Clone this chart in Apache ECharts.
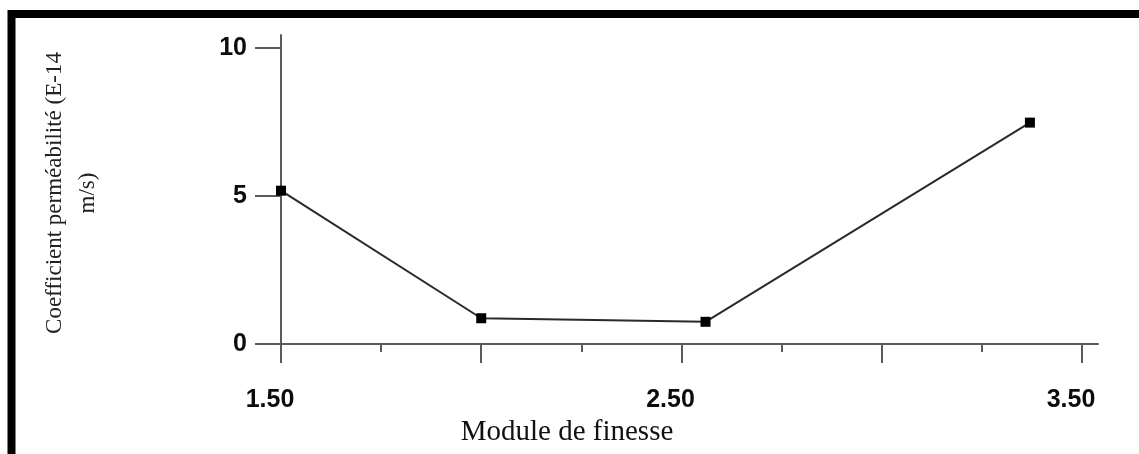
<!DOCTYPE html>
<html>
<head>
<meta charset="utf-8">
<title>Coefficient de perméabilité</title>
<script src="https://cdn.jsdelivr.net/npm/echarts@6/dist/echarts.min.js"></script>
<style>
  html, body { margin: 0; padding: 0; background: #fff; }
  #chart { width: 1139px; height: 454px; }
</style>
</head>
<body>
<div id="chart"></div>
<script>
// Fineness modulus of the sand vs. measured permeability coefficient
const finenessModulus = [1.5, 2.0, 2.56, 3.37];
const permeability = [5.18, 0.87, 0.75, 7.48];

// Axis ticks and labels
const xMajorTicks = [1.5, 2.0, 2.5, 3.0, 3.5];
const xMinorTicks = [1.75, 2.25, 2.75, 3.25];
const xTickLabels = [1.5, 2.5, 3.5];
const yTicks = [0, 5, 10];

const xName = 'Module de finesse';
const yName = 'Coefficient perméabilité (E-14\nm/s)';

const chart = echarts.init(document.getElementById('chart'));

const gridBox = { left: 281, top: 35, width: 817, height: 309 };
const axisGrey = '#5a5a5a';
const tickFont = { fontFamily: 'Liberation Sans, Arial, sans-serif', fontWeight: 'bold', fontSize: 25, color: '#0c0c0c' };

const points = finenessModulus.map((x, i) => [x, permeability[i]]);

chart.setOption({
  backgroundColor: '#fff',
  animation: false,
  grid: Object.assign({ containLabel: false }, gridBox),
  xAxis: [
    {
      type: 'value',
      min: 1.5,
      max: 3.54,
      splitLine: { show: false },
      axisLine: { show: true, onZero: false, lineStyle: { color: axisGrey, width: 2 } },
      axisTick: { show: true, length: 19, customValues: xMajorTicks, lineStyle: { color: axisGrey, width: 2 } },
      axisLabel: Object.assign({
        customValues: xTickLabels,
        margin: 44,
        padding: [0, 22, 0, 0],
        formatter: v => Number(v).toFixed(2)
      }, tickFont),
      name: xName,
      nameLocation: 'middle',
      nameGap: 67,
      nameTextStyle: {
        fontFamily: 'Liberation Serif, Times New Roman, serif',
        fontSize: 29,
        color: '#111',
        padding: [0, 245, 0, 0]
      }
    },
    {
      // second copy of the same scale, only for the short intermediate ticks
      type: 'value',
      min: 1.5,
      max: 3.54,
      position: 'bottom',
      splitLine: { show: false },
      axisLine: { show: false },
      axisTick: { show: true, length: 8, customValues: xMinorTicks, lineStyle: { color: axisGrey, width: 2 } },
      axisLabel: { show: false }
    }
  ],
  yAxis: {
    type: 'value',
    min: 0,
    max: 10.44,
    splitLine: { show: false },
    axisLine: { show: true, onZero: false, lineStyle: { color: axisGrey, width: 2 } },
    axisTick: { show: true, length: 26, customValues: yTicks, lineStyle: { color: axisGrey, width: 2 } },
    axisLabel: Object.assign({ customValues: yTicks, margin: 34 }, tickFont)
  },
  graphic: [
    {
      // heavy frame around the figure
      type: 'rect',
      shape: { x: 11.5, y: 14, width: 1200, height: 500 },
      style: { fill: 'none', stroke: '#000', lineWidth: 8 },
      silent: true
    },
    {
      type: 'text',
      x: 71,
      y: 193,
      rotation: Math.PI / 2,
      style: {
        text: yName,
        fontFamily: 'Liberation Serif, Times New Roman, serif',
        fontSize: 23,
        lineHeight: 33,
        fill: '#222',
        align: 'center',
        verticalAlign: 'middle'
      },
      silent: true
    }
  ],
  series: [
    {
      type: 'line',
      xAxisIndex: 0,
      data: points,
      symbol: 'rect',
      symbolSize: 10,
      showAllSymbol: true,
      lineStyle: { color: '#2a2a2a', width: 2 },
      itemStyle: { color: '#000' },
      emphasis: { disabled: true }
    }
  ]
});
</script>
</body>
</html>
